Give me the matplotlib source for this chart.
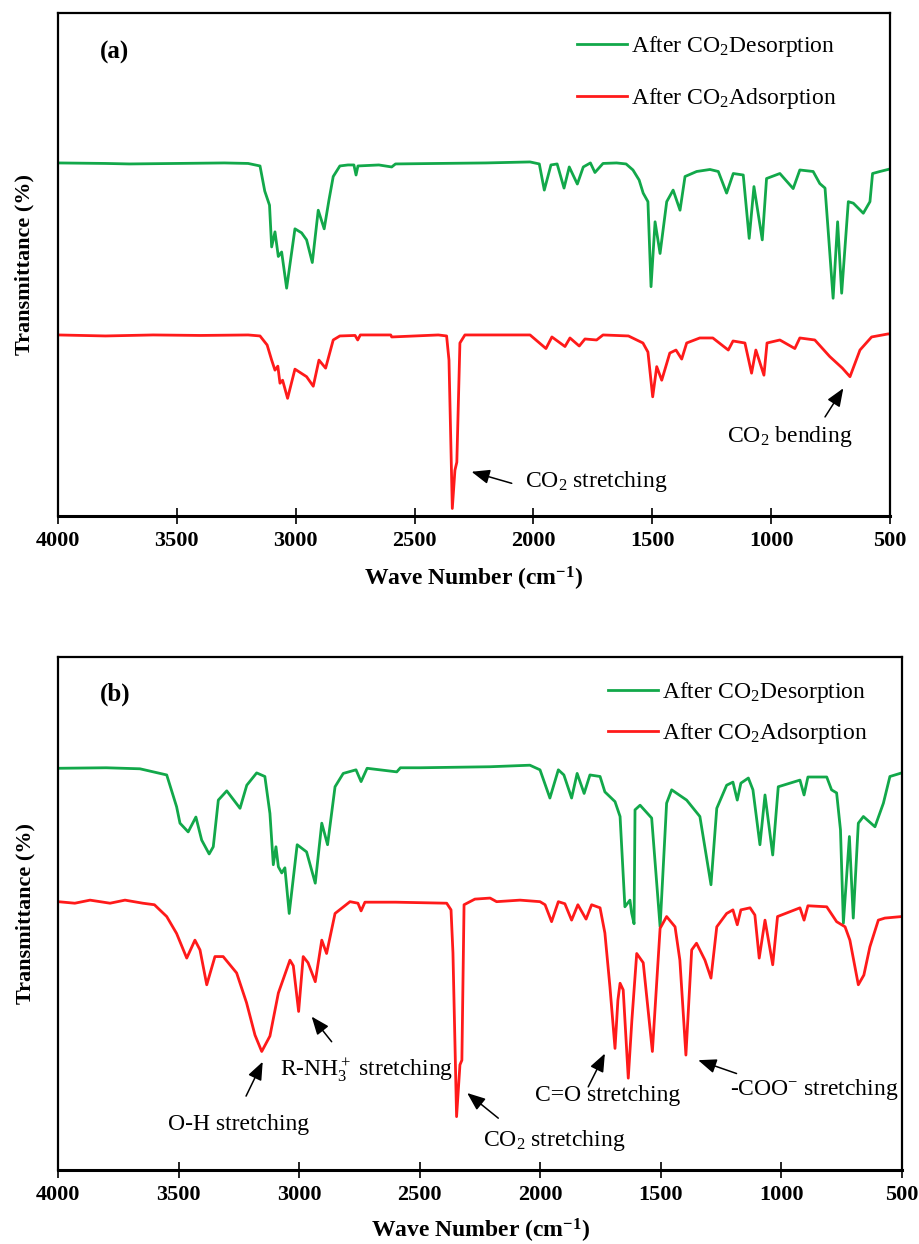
import numpy as np
import matplotlib
matplotlib.use("Agg")
import matplotlib.pyplot as plt

plt.rcParams['font.family'] = ['Liberation Serif', 'DejaVu Serif']
plt.rcParams['mathtext.fontset'] = 'custom'
plt.rcParams['mathtext.rm'] = 'Liberation Serif'
plt.rcParams['mathtext.it'] = 'Liberation Serif:italic'
plt.rcParams['mathtext.bf'] = 'Liberation Serif:bold'

GREEN = '#12a84a'
RED = '#ff1a1a'

# ---- (a) spectra: wave number (cm-1) and transmittance (%) ----
desorb_a_wn = [4000, 3800, 3700, 3500, 3300, 3200, 3150, 3130, 3110, 3101, 3087, 3073, 3059,
               3038, 3003, 2975, 2954, 2930, 2905, 2880, 2860, 2842, 2814, 2780, 2755, 2746,
               2738, 2650, 2596, 2580, 2400, 2200, 2014, 1975, 1954, 1926, 1900, 1871, 1849,
               1815, 1790, 1760, 1741, 1707, 1650, 1610, 1581, 1555, 1538, 1518, 1505, 1488,
               1467, 1439, 1412, 1383, 1362, 1313, 1257, 1222, 1187, 1159, 1117, 1092, 1072,
               1037, 1019, 963, 907, 879, 823, 795, 773, 760, 739, 720, 703, 675, 654, 612,
               584, 573, 542, 508, 500]
desorb_a_t = [70.2, 70.1, 70.0, 70.1, 70.2, 70.1, 69.6, 64.6, 61.8, 53.5, 56.5, 51.6, 52.5,
              45.3, 57.1, 56.3, 54.9, 50.4, 60.8, 57.1, 62.8, 67.5, 69.6, 69.8, 69.8, 67.8,
              69.6, 69.8, 69.4, 70.0, 70.1, 70.2, 70.4, 70.0, 64.8, 69.8, 70.0, 65.2, 69.4,
              66.0, 69.4, 70.2, 68.3, 70.1, 70.2, 70.0, 68.8, 66.8, 64.2, 62.5, 45.6, 58.5,
              52.2, 62.5, 64.8, 60.8, 67.5, 68.5, 68.9, 68.5, 64.2, 68.1, 67.8, 55.2, 65.5,
              54.9, 67.1, 68.1, 65.1, 68.8, 68.5, 66.1, 65.2, 56.9, 43.3, 58.5, 44.3, 62.5,
              62.2, 60.2, 62.5, 68.1, 68.5, 68.9, 69.0]

adsorb_a_wn = [4000, 3800, 3600, 3400, 3200, 3150, 3120, 3101, 3087, 3075, 3066, 3055, 3034,
               3003, 2954, 2926, 2902, 2874, 2842, 2814, 2750, 2739, 2728, 2600, 2596, 2400,
               2365, 2355, 2341, 2330, 2322, 2309, 2288, 2100, 2014, 1947, 1922, 1867, 1846,
               1807, 1783, 1734, 1707, 1600, 1539, 1518, 1498, 1481, 1460, 1426, 1400, 1376,
               1355, 1300, 1245, 1180, 1160, 1110, 1082, 1064, 1030, 1017, 963, 900, 879,
               816, 753, 700, 668, 626, 577, 508, 500]
adsorb_a_t = [36.0, 35.8, 36.0, 35.9, 36.0, 35.8, 34.0, 31.0, 29.0, 29.8, 26.4, 27.0, 23.4,
              29.2, 27.7, 25.8, 31.0, 29.4, 35.0, 35.8, 35.9, 35.0, 36.0, 36.0, 35.6, 36.0,
              35.8, 31.0, 1.5, 9.1, 10.7, 34.4, 36.0, 36.0, 36.0, 33.3, 35.6, 33.7, 35.4,
              33.8, 35.2, 35.0, 36.0, 35.8, 34.4, 32.6, 23.7, 29.7, 27.0, 32.4, 33.0, 31.2,
              34.4, 35.4, 35.4, 33.0, 34.8, 34.4, 28.4, 33.0, 28.0, 34.4, 35.0, 33.3, 35.4,
              35.0, 31.7, 29.4, 27.7, 33.0, 35.6, 36.2, 36.2]

# ---- (b) spectra ----
desorb_b_wn = [4000, 3800, 3660, 3549, 3508, 3494, 3460, 3428, 3404, 3373, 3356, 3335, 3300,
               3245, 3217, 3176, 3142, 3121, 3107, 3096, 3086, 3072, 3059, 3041, 3008, 2969,
               2933, 2906, 2882, 2851, 2817, 2764, 2743, 2718, 2595, 2580, 2499, 2208, 2043,
               2001, 1960, 1925, 1902, 1870, 1847, 1818, 1794, 1752, 1732, 1690, 1669, 1649,
               1628, 1621, 1611, 1607, 1586, 1538, 1503, 1476, 1455, 1393, 1338, 1292, 1268,
               1227, 1201, 1183, 1168, 1137, 1118, 1089, 1068, 1036, 1013, 923, 906, 890, 812,
               792, 771, 755, 743, 718, 702, 681, 660, 612, 577, 550, 501]
desorb_b_t = [78.3, 78.4, 78.2, 77.0, 70.8, 67.6, 65.9, 68.8, 64.3, 61.6, 63.0, 72.1, 73.9,
              70.5, 75.0, 77.4, 76.7, 69.5, 59.5, 63.0, 59.1, 57.9, 58.9, 50.0, 63.4, 62.0,
              55.9, 67.6, 63.4, 74.7, 77.3, 78.0, 75.7, 78.3, 77.6, 78.4, 78.4, 78.6, 78.9,
              78.0, 72.5, 78.0, 77.0, 72.5, 77.3, 73.4, 77.0, 76.7, 73.7, 71.8, 68.9, 51.3,
              52.6, 50.1, 48.0, 70.2, 71.1, 68.6, 47.4, 71.5, 74.1, 72.1, 68.9, 55.6, 70.5,
              75.0, 75.6, 72.1, 75.4, 76.4, 74.1, 63.4, 73.1, 61.4, 74.7, 76.0, 73.1, 76.6, 76.6,
              74.1, 73.5, 66.3, 48.1, 65.0, 49.1, 67.6, 68.9, 66.9, 71.5, 76.7, 77.4]

adsorb_b_wn = [4000, 3930, 3867, 3784, 3722, 3648, 3600, 3549, 3508, 3466, 3432, 3411, 3383,
               3349, 3315, 3259, 3218, 3183, 3155, 3121, 3086, 3038, 3024, 3002, 2983, 2963,
               2933, 2906, 2886, 2851, 2789, 2756, 2743, 2727, 2600, 2388, 2370, 2362, 2347,
               2333, 2325, 2316, 2271, 2208, 2181, 2084, 2001, 1980, 1953, 1925, 1898, 1870,
               1844, 1810, 1787, 1752, 1732, 1711, 1690, 1678, 1669, 1656, 1635, 1620, 1600,
               1573, 1535, 1503, 1476, 1441, 1421, 1396, 1372, 1352, 1317, 1292, 1268, 1227,
               1201, 1183, 1168, 1130, 1110, 1092, 1068, 1036, 1016, 923, 906, 890, 812, 771,
               736, 716, 681, 658, 633, 598, 571, 501]
adsorb_b_t = [52.3, 52.0, 52.6, 52.0, 52.6, 52.0, 51.7, 49.4, 46.1, 41.3, 44.8, 42.9, 36.1,
              41.6, 41.6, 38.4, 32.6, 26.3, 23.1, 26.1, 34.5, 40.9, 39.8, 30.9, 41.6, 40.4,
              36.7, 44.8, 42.2, 50.0, 52.3, 52.0, 50.5, 52.2, 52.2, 52.0, 50.7, 42.3, 10.4,
              20.5, 21.4, 51.7, 52.8, 53.0, 52.3, 52.6, 52.3, 51.7, 48.4, 52.3, 51.9, 48.7,
              51.7, 48.9, 51.7, 51.1, 46.2, 35.7, 23.7, 33.1, 36.4, 35.1, 17.9, 29.2, 42.2,
              40.4, 23.1, 47.1, 49.4, 47.4, 40.9, 22.4, 42.9, 44.2, 40.9, 37.4, 47.4, 50.0,
              50.7, 47.8, 50.7, 51.1, 49.7, 41.3, 48.7, 40.0, 49.4, 51.1, 48.7, 51.5, 51.3, 48.4,
              47.4, 44.8, 36.1, 38.0, 43.5, 48.7, 49.1, 49.4]

xticks = [4000, 3500, 3000, 2500, 2000, 1500, 1000, 500]

# annotations: (text, arrow head (wn, T), arrow tail (wn, T), text position (wn, T), ha)
notes_a = [
    (r'CO$_2$ stretching', (2260, 8.8), (2091, 6.5), (2035, 6.8), 'left'),
    (r'CO$_2$ bending', (696, 25.4), (773, 19.7), (921, 15.8), 'center'),
]
notes_b = [
    (r'O-H stretching', (3151, 21.1), (3220, 14.4), (3249, 8.8), 'center'),
    (r'R-NH$_3^+$ stretching', (2948, 29.9), (2865, 25.0), (3079, 19.5), 'left'),
    (r'CO$_2$ stretching', (2303, 15.0), (2174, 10.1), (2238, 5.8), 'left'),
    (r'C=O stretching', (1732, 22.7), (1801, 16.2), (1721, 14.6), 'center'),
    (r'-COO$^{-}$ stretching', (1345, 21.4), (1186, 18.8), (865, 15.6), 'center'),
]

fig = plt.figure(figsize=(9.2, 12.44), dpi=100)
ax_a = fig.add_axes([0.0630, 0.5852, 0.9043, 0.4043])
ax_b = fig.add_axes([0.0630, 0.0595, 0.9174, 0.4124])


def style_axis(ax, tag, tag_xy, leg_anchor, leg_spacing):
    ax.set_xlim(4000, 500)
    ax.set_ylim(0, 100)
    ax.set_xticks(xticks)
    ax.set_yticks([])
    ax.tick_params(axis='x', direction='inout', length=11, width=1.2, pad=5,
                   labelsize=16)
    for lbl in ax.get_xticklabels():
        lbl.set_fontweight('bold')
    for side in ['left', 'top', 'right']:
        ax.spines[side].set_linewidth(1.6)
    ax.spines['bottom'].set_linewidth(2.2)
    ax.set_xlabel(r'Wave Number (cm$^\mathbf{-1}$)', fontsize=17, fontweight='bold',
                  va='center')
    ax.set_ylabel('Transmittance (%)', fontsize=16, fontweight='bold', va='center')
    ax.text(tag_xy[0], tag_xy[1], tag, transform=ax.transAxes, fontsize=18,
            fontweight='bold', ha='center', va='center')
    ax.legend(loc='upper left', bbox_to_anchor=leg_anchor, frameon=False,
              fontsize=17, handlelength=2.1, handletextpad=0.18, borderpad=0,
              borderaxespad=0, labelspacing=leg_spacing)


def add_notes(ax, notes):
    for text, head, tail, pos, ha in notes:
        ax.annotate('', xy=head, xytext=tail,
                    arrowprops=dict(arrowstyle='-|>,head_length=0.55,head_width=0.22',
                                    color='black', lw=1.1, mutation_scale=20,
                                    shrinkA=0, shrinkB=0))
        ax.text(pos[0], pos[1], text, fontsize=17, ha=ha, va='center')


# --- (a) ---
ax_a.plot(desorb_a_wn, desorb_a_t, color=GREEN, lw=2.0, label=r'After CO$_2$Desorption')
ax_a.plot(adsorb_a_wn, adsorb_a_t, color=RED, lw=2.0, label=r'After CO$_2$Adsorption')
style_axis(ax_a, '(a)', (0.0685, 0.922), (0.624, 0.958), 1.13)
ax_a.xaxis.set_label_coords(0.5, -0.125)
ax_a.yaxis.set_label_coords(-0.040, 0.5)
add_notes(ax_a, notes_a)

# --- (b) ---
ax_b.plot(desorb_b_wn, desorb_b_t, color=GREEN, lw=2.0, label=r'After CO$_2$Desorption')
ax_b.plot(adsorb_b_wn, adsorb_b_t, color=RED, lw=2.0, label=r'After CO$_2$Adsorption')
style_axis(ax_b, '(b)', (0.0675, 0.928), (0.652, 0.955), 0.69)
ax_b.xaxis.set_label_coords(0.5, -0.118)
ax_b.yaxis.set_label_coords(-0.039, 0.5)
add_notes(ax_b, notes_b)

fig.savefig('out.png', dpi=100)
